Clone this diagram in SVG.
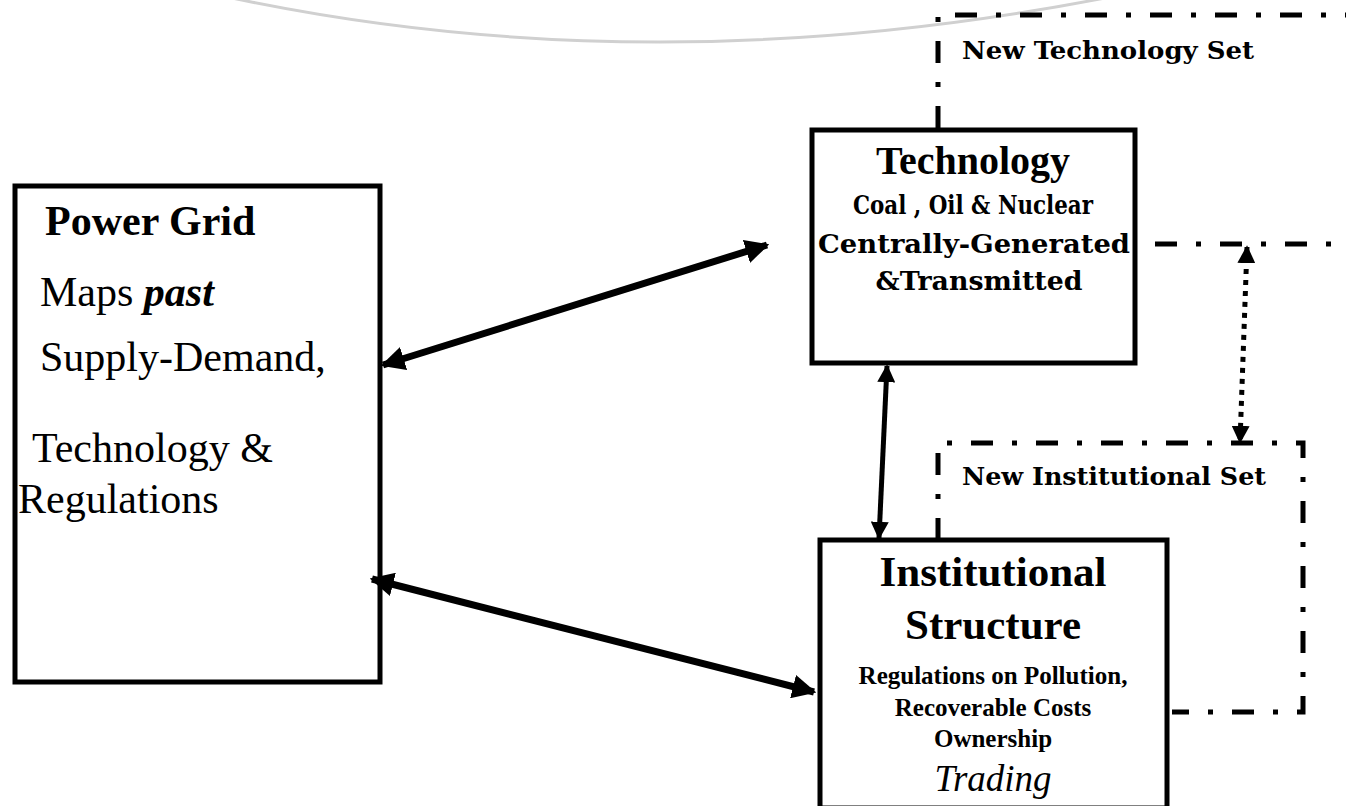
<svg xmlns="http://www.w3.org/2000/svg" width="1346" height="806" viewBox="0 0 1346 806">
<style>
.box{fill:#fff;stroke:#000;stroke-width:5}
.dd{fill:none;stroke:#000;stroke-width:5;stroke-dasharray:22 19 5 19}
.tnr{font-family:"Liberation Serif","Times New Roman",serif;fill:#000}
.cam{font-family:"DejaVu Serif Condensed","DejaVu Serif",serif;font-weight:bold;fill:#000}
.conn{stroke:#000;fill:none}
</style>
<defs>
<marker id="ah" viewBox="0 0 10 10" refX="9" refY="5" markerWidth="24" markerHeight="24" markerUnits="userSpaceOnUse" orient="auto-start-reverse">
<path d="M0,0 L10,5 L0,10 Z" fill="#000"/>
</marker>
<marker id="ahs" viewBox="0 0 10 10" refX="9" refY="5" markerWidth="18" markerHeight="18" markerUnits="userSpaceOnUse" orient="auto-start-reverse">
<path d="M0,0 L10,5 L0,10 Z" fill="#000"/>
</marker>
</defs>
<rect width="1346" height="806" fill="#fff"/>
<path d="M232,-2 Q650,86 1105,-2" fill="none" stroke="#d0d0d0" stroke-width="3"/>

<g id="new-technology-set">
<path class="dd" d="M938,128 L938,15 L1346,15"/>
<path class="dd" d="M1155,244 L1346,244"/>
<text class="cam" x="962" y="59" font-size="25" textLength="292" lengthAdjust="spacingAndGlyphs">New Technology Set</text>
</g>

<g id="new-institutional-set">
<path class="dd" d="M938,540 L938,443 L1303,443 L1303,712 L1172,712"/>
<text class="cam" x="962" y="485" font-size="25" textLength="304" lengthAdjust="spacingAndGlyphs">New Institutional Set</text>
</g>

<g id="power-grid">
<rect class="box" x="15" y="186" width="365" height="496"/>
<text class="tnr" x="45" y="235" font-size="42" font-weight="bold">Power Grid</text>
<text class="tnr" x="40" y="306" font-size="42">Maps <tspan font-weight="bold" font-style="italic">past</tspan></text>
<text class="tnr" x="40" y="371" font-size="42">Supply-Demand,</text>
<text class="tnr" x="32" y="462" font-size="42">Technology &amp;</text>
<text class="tnr" x="18" y="513" font-size="42">Regulations</text>
</g>

<g id="technology">
<rect class="box" x="812" y="130" width="323" height="233"/>
<text class="tnr" x="973" y="174" font-size="40" font-weight="bold" text-anchor="middle">Technology</text>
<text class="cam" x="973" y="214" font-size="26" text-anchor="middle" textLength="240" lengthAdjust="spacingAndGlyphs">Coal , Oil &amp; Nuclear</text>
<text class="cam" x="974" y="253" font-size="26" text-anchor="middle" textLength="312" lengthAdjust="spacingAndGlyphs">Centrally-Generated</text>
<text class="cam" x="979" y="290" font-size="26" text-anchor="middle" textLength="207" lengthAdjust="spacingAndGlyphs">&amp;Transmitted</text>
</g>

<g id="institutional-structure">
<rect class="box" x="820" y="540" width="347" height="268"/>
<text class="tnr" x="993" y="586" font-size="43" font-weight="bold" text-anchor="middle">Institutional</text>
<text class="tnr" x="993" y="639" font-size="43" font-weight="bold" text-anchor="middle">Structure</text>
<text class="tnr" x="993" y="684" font-size="25" font-weight="bold" text-anchor="middle">Regulations on Pollution,</text>
<text class="tnr" x="993" y="716" font-size="25" font-weight="bold" text-anchor="middle">Recoverable Costs</text>
<text class="tnr" x="993" y="747" font-size="25" font-weight="bold" text-anchor="middle">Ownership</text>
<text class="tnr" x="993" y="791" font-size="37" font-style="italic" text-anchor="middle">Trading</text>
</g>

<g id="connectors">
<line class="conn" x1="383" y1="365" x2="767" y2="245" stroke-width="7" marker-start="url(#ah)" marker-end="url(#ah)"/>
<line class="conn" x1="372" y1="579" x2="814" y2="692" stroke-width="7" marker-start="url(#ah)" marker-end="url(#ah)"/>
<line class="conn" x1="887" y1="366" x2="879" y2="538" stroke-width="5" marker-start="url(#ahs)" marker-end="url(#ahs)"/>
<line class="conn" x1="1247" y1="247" x2="1240" y2="442" stroke-width="5" stroke-dasharray="5 6" marker-start="url(#ahs)" marker-end="url(#ahs)"/>
</g>
</svg>
